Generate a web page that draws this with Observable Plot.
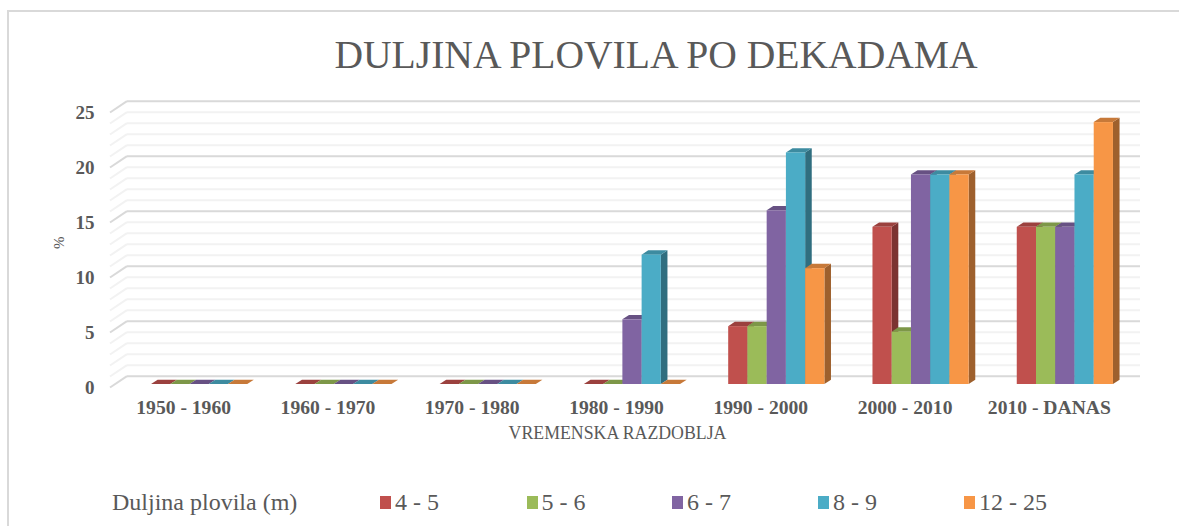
<!DOCTYPE html>
<html>
<head>
<meta charset="utf-8">
<script src="https://cdn.jsdelivr.net/npm/d3@7"></script>
<script src="https://cdn.jsdelivr.net/npm/@observablehq/plot@0.6"></script>
<style>
html,body{margin:0;padding:0;background:#fff;}
#wrap{position:relative;width:1179px;height:526px;overflow:hidden;font-family:"Liberation Serif",serif;color:#595959;}
#frame{position:absolute;left:7px;top:10px;width:1172px;height:530px;border-left:2px solid #d9d9d9;border-top:2px solid #d9d9d9;box-sizing:border-box;}
#title{position:absolute;left:0;top:33px;width:1312px;text-align:center;font-size:39.6px;line-height:44px;}
#chart{position:absolute;left:0;top:90px;}
#legend{position:absolute;left:112px;top:489px;height:26px;font-size:24px;line-height:26px;white-space:nowrap;}
#legend span{position:absolute;top:0;}
#legend i{position:absolute;top:7px;width:11px;height:13px;}
</style>
</head>
<body>
<div id="wrap">
<div id="frame"></div>
<div id="title"></div>
<div id="chart"></div>
<div id="legend"></div>
</div>
<script>
const titleText = "DULJINA PLOVILA PO DEKADAMA";
const yLabel = "%";
const xLabel = "VREMENSKA RAZDOBLJA";
const legendTitle = "Duljina plovila (m)";
const periods = ["1950 - 1960","1960 - 1970","1970 - 1980","1980 - 1990","1990 - 2000","2000 - 2010","2010 - DANAS"];
const sizes = ["4 - 5","5 - 6","6 - 7","8 - 9","12 - 25"];
const colors = ["#C0504D","#9BBB59","#8064A2","#4BACC6","#F79646"];
const s4_5  = [0,0,0,0,5.26,14.29,14.29];
const s5_6  = [0,0,0,0,5.26,4.76,14.29];
const s6_7  = [0,0,0,5.88,15.79,19.05,14.29];
const s8_9  = [0,0,0,11.76,21.05,19.05,19.05];
const s12_25= [0,0,0,0,10.53,19.05,23.81];
const series = [s4_5,s5_6,s6_7,s8_9,s12_25];
const majorTicks = [0,5,10,15,20,25];
const minorTicks = d3.range(0,26).filter(v => v % 5 !== 0);

const rows = periods.flatMap((p,i) => sizes.map((s,j) => ({period:p,size:s,idx:j,value:series[j][i]})));

const backDx = 17, backDy = 11.3;   // wall depth
const barDx = 6.6, barDy = 4.3, barLift = 3; // bar depth and position

function wall(strokeCol, width, ticks){
  return Plot.ruleY(ticks,{
    stroke: strokeCol, strokeWidth: width,
    render(index, scales, values, dims, ctx, next){
      const g = next(index, scales, values, dims, ctx);
      const sel = d3.select(g);
      sel.selectAll("line").remove();
      for (const i of index){
        const y = scales.y(ticks[i]);
        sel.append("line")
          .attr("x1", dims.marginLeft - backDx).attr("y1", y)
          .attr("x2", dims.marginLeft).attr("y2", y - backDy)
          .attr("stroke", strokeCol).attr("stroke-width", width);
      }
      return g;
    }
  });
}

function backGrid(strokeCol, width, ticks){
  return Plot.ruleY(ticks,{stroke:strokeCol,strokeWidth:width,dy:-backDy});
}

const bars = Plot.barY(rows,{
  x:"period", y:"value", fill:"size",
  render(index, scales, values, dims, ctx, next){
    const g = next(index, scales, values, dims, ctx);
    const band = scales.x.bandwidth();
    const w = band / sizes.length;
    const y0 = scales.y(0) - barLift;
    const sel = d3.select(g);
    const rects = sel.selectAll("rect").nodes();
    const items = Array.from(index, (i,k) => ({r:rows[i], node:rects[k]}));
    for (const {r,node} of items){
      const x0 = scales.x(r.period) + r.idx * w;
      const yt = scales.y(r.value) - barLift;
      const col = d3.rgb(colors[r.idx]);
      sel.append("polygon")
        .attr("points",[[x0+w,yt],[x0+w+barDx,yt-barDy],[x0+w+barDx,y0-barDy],[x0+w,y0]].join(" "))
        .attr("fill",col.darker(1.25).formatHex());
      sel.append("polygon")
        .attr("points",[[x0,yt],[x0+barDx,yt-barDy],[x0+w+barDx,yt-barDy],[x0+w,yt]].join(" "))
        .attr("fill",col.darker(0.6).formatHex());
      d3.select(node).attr("x",x0).attr("width",w).attr("y",yt).attr("height",Math.max(0,y0-yt));
      g.appendChild(node);
    }
    return g;
  }
});

const plot = Plot.plot({
  width:1179, height:370,
  marginLeft:127, marginRight:39, marginTop:22, marginBottom:73,
  style:{background:"transparent",fontFamily:"Liberation Serif, serif",color:"#595959"},
  x:{domain:periods,paddingInner:1/3,paddingOuter:1/6,range:[127,1137],round:false,label:null},
  y:{domain:[0,25],label:null},
  color:{domain:sizes,range:colors},
  marks:[
    wall("#f2f2f2",2,minorTicks),
    backGrid("#f2f2f2",2,minorTicks),
    wall("#d9d9d9",2,majorTicks),
    backGrid("#d9d9d9",2,majorTicks),
    bars,
    Plot.axisY(majorTicks,{anchor:"left",tickSize:0,tickPadding:33,fontSize:19,fontWeight:"bold",fill:"#595959",label:null}),
    Plot.axisX({anchor:"bottom",tickSize:0,tickPadding:13,dx:-16,fontSize:19.6,fontWeight:"bold",fill:"#595959",label:null}),
    Plot.text([yLabel],{frameAnchor:"left",dx:-68,dy:-1,rotate:-90,fontSize:15,fill:"#595959"}),
    Plot.text([xLabel],{frameAnchor:"bottom",dx:-16.5,dy:51,fontSize:17.8,fill:"#595959"})
  ]
});
document.getElementById("chart").appendChild(plot);
document.getElementById("title").textContent = titleText;

const legend = d3.select("#legend");
legend.append("span").style("left","0").text(legendTitle);
const swatchX = [380,526.5,672,818,964];
sizes.forEach((s,j)=>{
  legend.append("i").style("left",(swatchX[j]-112)+"px").style("background",colors[j]);
  legend.append("span").style("left",(swatchX[j]-112+15)+"px").text(s);
});
</script>
</body>
</html>
